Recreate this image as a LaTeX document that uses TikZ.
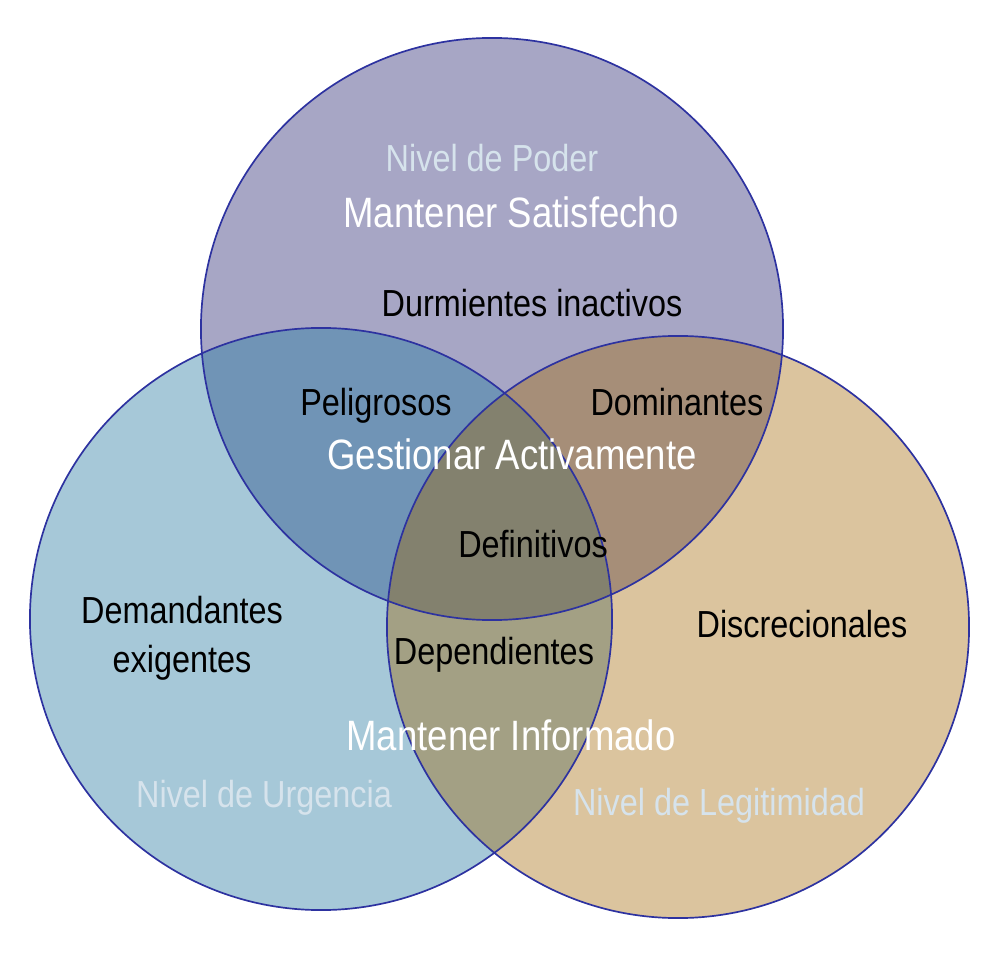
\documentclass[tikz,border=0pt]{standalone}
\usepackage{fontspec}
\setmainfont{Liberation Sans}[FakeStretch=0.86]
\definecolor{poder}{RGB}{167,166,197}
\definecolor{urgencia}{RGB}{166,200,216}
\definecolor{legit}{RGB}{219,196,158}
\definecolor{poderurg}{RGB}{112,148,182}
\definecolor{poderleg}{RGB}{166,142,120}
\definecolor{urgleg}{RGB}{163,160,132}
\definecolor{todos}{RGB}{131,129,110}
\definecolor{borde}{RGB}{45,50,160}
\definecolor{tenue}{RGB}{214,227,236}
\begin{document}
\begin{tikzpicture}[x=0.025cm,y=-0.025cm,
grupo/.style = {anchor=base, inner sep = 0pt, font=\fontsize{26.8}{32}\selectfont},
accion/.style = {anchor=base, inner sep = 0pt, text=white, font=\fontsize{30.2}{36}\selectfont},
nivel/.style = {anchor=base, inner sep = 0pt, text=tenue, font=\fontsize{26.8}{32}\selectfont},
aro/.style = {radius=7.275cm},]
\useasboundingbox (0,0) rectangle (988,958);
\coordinate (P) at (492,329);
\coordinate (U) at (321,619);
\coordinate (L) at (678,627);
\fill[poder] (P) circle [aro];
\fill[urgencia] (U) circle [aro];
\fill[legit] (L) circle [aro];
\begin{scope}
\clip (P) circle [aro];
\fill[poderurg] (U) circle [aro];
\fill[poderleg] (L) circle [aro];
\end{scope}
\begin{scope}
\clip (U) circle [aro];
\fill[urgleg] (L) circle [aro];
\end{scope}
\begin{scope}
\clip (P) circle [aro];
\clip (U) circle [aro];
\fill[todos] (L) circle [aro];
\end{scope}
\draw[borde,line width=1.2pt] (P) circle [aro];
\draw[borde,line width=1.2pt] (U) circle [aro];
\draw[borde,line width=1.2pt] (L) circle [aro];
\node (np) at (492,172)[nivel] {Nivel de Poder};
\node (ms) at (511,228)[accion] {Mantener Satisfecho};
\node (di) at (532,317)[grupo] {Durmientes inactivos};
\node (pe) at (376,415)[grupo] {Peligrosos};
\node (do) at (677,415)[grupo] {Dominantes};
\node (ga) at (512,470)[accion] {Gestionar Activamente};
\node (de) at (533,557)[grupo] {Definitivos};
\node (dm) at (182,623)[grupo] {Demandantes};
\node (ex) at (182,672)[grupo] {exigentes};
\node (dc) at (802,637)[grupo] {Discrecionales};
\node (dp) at (494,664)[grupo] {Dependientes};
\node (mi) at (511,750)[accion] {Mantener Informado};
\node (nu) at (264,807)[nivel] {Nivel de Urgencia};
\node (nl) at (719,815)[nivel] {Nivel de Legitimidad};
\end{tikzpicture}
\end{document}
